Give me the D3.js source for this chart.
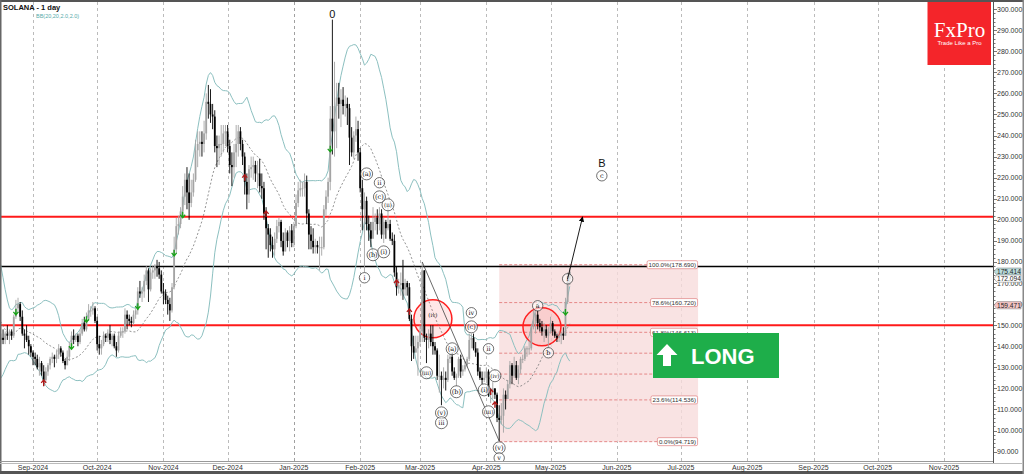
<!DOCTYPE html>
<html><head><meta charset="utf-8">
<script src="https://cdn.jsdelivr.net/npm/d3@7"></script>
<style>
html,body{margin:0;padding:0;background:#fff;}
svg{display:block;font-family:"Liberation Sans",Arial,sans-serif;}
</style></head><body>
<svg id="c" width="1024" height="474"></svg>
<script>
// ---------------- DATA ----------------
const startDate = "2024-07-28";
const firstOpen = 186;
const closes = [
184,181,178,172,166,154,145,138,130,147,143,160,155,153,144,147,146,142,141,143,
144,143,146,145,147,145,154,158,160,154,146,145,143,140,137,
135,134,130,132,128,124,128,131,134,135,134,136,139,137,133,131,135,140,145,143,145,142,146,151,148,153,157,157,158,152,
141,139,141,145,144,146,143,145,140,138,145,147,147,155,153,152,151,155,157,166,165,166,171,176,167,175,176,178,177,174,166,
165,162,160,157,168,186,197,198,204,211,219,213,208,213,219,233,236,237,236,241,256,255,250,249,235,234,236,236,241,242,
235,226,225,232,236,242,236,230,218,212,224,225,226,222,222,216,215,203,196,193,188,186,191,197,199,190,185,194,190,195,189,
197,208,214,215,215,218,203,193,190,187,188,187,187,187,205,211,218,248,242,254,258,255,257,254,255,253,239,232,240,243,232,
215,205,209,198,195,191,199,201,198,203,193,199,196,198,191,190,175,168,169,170,167,170,168,153,140,137,139,142,
147,176,144,143,146,142,140,138,126,126,124,125,124,134,135,128,125,126,134,128,129,131,134,143,144,139,137,128,125,124,125,
128,117,118,120,117,106,105,107,117,115,122,131,126,131,125,129,134,134,139,139,139,149,152,155,151,149,147,148,145,147,
151,147,145,144,145,146,145,161,172,175.4];
const highs = [
188,187,184,181,174,168,156,147,140,151,152,162,162,157,155,149,149,148,146,147,
146,148,147,150,148,148,155,162,163,161,157,148,150,145,141,
138,137,136,135,133,131,130,132,135,137,136,138,141,140,138,134,138,142,147,148,146,146,148,153,154,156,160,159,161,159,
154,145,143,147,146,148,150,146,146,142,147,149,149,158,157,155,154,157,158,168,171,168,174,178,177,177,178,179,181,180,176,
170,167,164,163,170,192,201,202,206,216,222,225,222,219,222,238,242,242,242,247,260,264,262,255,252,240,240,245,245,245,
245,238,232,236,245,245,244,238,232,222,226,230,230,228,228,229,222,218,206,198,196,192,194,200,201,200,194,196,195,197,198,
199,212,218,219,218,222,221,205,197,196,191,190,192,192,207,214,220,254,295,275,265,265,262,263,259,258,255,244,242,249,247,
234,219,213,211,202,199,206,203,205,206,205,201,200,206,200,194,193,178,172,175,181,172,171,170,155,145,145,145,
150,180,176,146,148,150,150,142,139,136,128,130,128,136,137,137,130,127,135,136,131,133,135,146,146,146,142,139,130,128,128,
130,129,120,123,120,118,112,113,120,119,124,133,132,135,133,131,135,136,140,140,143,150,157,156,157,153,152,151,150,149,
154,152,148,146,147,147,149,163,175,177];
const lows = [
180,178,176,170,162,150,139,133,110,128,138,142,150,148,142,141,141,140,138,140,
141,141,141,143,141,143,144,153,156,152,145,139,142,136,135,
131,131,129,126,126,121,123,126,129,132,130,132,134,135,132,129,131,133,139,141,142,140,141,145,147,147,152,154,155,151,
138,136,136,140,142,142,141,140,139,135,137,144,144,146,148,150,149,150,153,155,163,161,163,169,161,166,172,172,173,172,165,
160,160,155,152,156,167,184,193,196,202,207,205,200,206,211,218,225,230,230,232,238,248,246,243,232,225,226,230,232,235,
232,222,216,220,225,230,233,226,212,205,208,220,219,218,215,213,210,200,186,182,185,182,183,189,194,187,183,185,187,185,187,
187,196,206,211,211,211,198,186,186,184,184,184,176,183,186,202,208,214,231,230,234,248,244,250,249,245,226,230,229,237,228,
213,195,175,195,190,187,193,195,193,195,191,189,191,195,190,188,173,164,165,164,162,164,164,152,133,134,137,126,
140,142,142,132,139,140,136,136,124,118,112,120,119,123,132,126,124,121,125,125,126,128,130,133,139,138,135,126,124,122,123,
124,116,113,115,115,104,95,103,99,110,115,120,122,125,124,122,127,132,133,135,136,138,148,146,148,147,145,142,144,139,
146,145,144,142,142,141,143,145,160,169];

const monthTicks = ["2024-09-01","2024-10-01","2024-11-01","2024-12-01","2025-01-01","2025-02-01","2025-03-01","2025-04-01","2025-05-01","2025-06-01","2025-07-01","2025-08-01","2025-09-01","2025-10-01","2025-11-01"];
const monthLabels = ["Sep-2024","Oct-2024","Nov-2024","Dec-2024","Jan-2025","Feb-2025","Mar-2025","Apr-2025","May-2025","Jun-2025","Jul-2025","Aug-2025","Sep-2025","Oct-2025","Nov-2025"];
const priceTicks = [90,100,110,120,130,140,150,160,170,180,190,200,210,220,230,240,250,260,270,280,290,300];

const redLevels = [201.5, 150];
const blackLevels = [177.8];

const fibLow = 94.719, fibHigh = 178.690;
const fibRatios = [1, 0.786, 0.618, 0.5, 0.382, 0.236, 0];
const fibLabelRatios = [1, 0.786, 0.618, 0.236, 0];
const fibStart = "2025-04-07", fibEnd = "2025-07-09";

// signal markers: [date, direction, price]
const signals = [
["2024-08-24","up",156.3],["2024-09-06","down",122.6],["2024-09-19","up",140],["2024-09-26","up",152.8],
["2024-10-20","up",159],["2024-11-06","up",184.3],["2024-11-10","up",202.4],["2024-12-09","down",220],
["2024-12-19","down",202.8],["2025-01-18","up",233.7],["2025-02-18","down",170],["2025-02-24","down",156.3],
["2025-04-03","down",118.3],["2025-04-05","down",112.2],["2025-05-08","up",156.3]];

// wave labels: [text, date, price, circled]
const waves = [
["(a)","2025-02-04",221.8,1],["ii","2025-02-10",217.6,1],["(c)","2025-02-10",210.9,1],["(ii)","2025-02-14",207.1,1],
["(b)","2025-02-07",183.4,1],["(i)","2025-02-12",184.8,1],["i","2025-02-03",172.5,1],
["(iv)","2025-03-07",154.9,0],["iv","2025-03-25",155.9,1],["(c)","2025-03-25",149.2,1],["(a)","2025-03-16",138.8,1],
["ii","2025-04-02",138.8,1],["(iii)","2025-03-04",127.4,1],["(iv)","2025-04-05",126,1],["(b)","2025-03-18",118.4,1],
["(i)","2025-03-31",119.3,1],["(iii)","2025-04-02",108.9,1],["(v)","2025-03-11",108.4,1],["iii","2025-03-11",103.7,1],
["(v)","2025-04-07",91.8,1],["v","2025-04-07",87,1],["a","2025-04-25",159.2,1],["b","2025-04-30",136.9,1],
["i","2025-05-09",172,1],["c","2025-05-25",220.9,1]];
const bigLabels = [["0","2025-01-19",297.8],["B","2025-05-25",227.2]];

const redCircles = [["2025-03-07",153],["2025-04-27",149.2]];
const trendLine = [["2025-03-02",180],["2025-04-07",95]];
const targetArrow = [["2025-05-09",172],["2025-05-16",201.4]];

const priceTags = [[175.414,"#b9dcdc"],[172.094,"#ffffff"],[159.471,"#f4c4c4"]];

// ---------------- CHART ----------------
const svg = d3.select("#c");
const W = 1024, H = 474;
const plotR = 993, plotT = 2, plotB = 462;
const parse = d3.utcParse("%Y-%m-%d");
const x = d3.scaleUtc().domain([parse("2024-09-01"), parse("2025-11-01")]).range([33, 944]);
const y = d3.scaleLinear().domain([90, 300]).range([451.6, 9.1]);

svg.append("rect").attr("width",W).attr("height",H).attr("fill","#fff");

const clip = svg.append("defs").append("clipPath").attr("id","pc");
clip.append("rect").attr("x",1).attr("y",plotT).attr("width",plotR-1).attr("height",plotB-plotT);

// grid
svg.append("g").selectAll("line").data(monthTicks).join("line")
  .attr("x1",d=>Math.round(x(parse(d)))+0.5).attr("x2",d=>Math.round(x(parse(d)))+0.5)
  .attr("y1",plotT).attr("y2",plotB)
  .attr("stroke",(d,i)=>d.endsWith("01-01")?"#888":"#aaa").attr("stroke-width",0.8)
  .attr("stroke-dasharray","3,3");

const g = svg.append("g").attr("clip-path","url(#pc)");

// fib zone
const fx1 = x(parse(fibStart)), fx2 = x(parse(fibEnd));
g.append("rect").attr("x",fx1).attr("y",y(fibHigh)).attr("width",fx2-fx1).attr("height",y(fibLow)-y(fibHigh))
  .attr("fill","#f7dcdc").attr("opacity",0.8);
g.selectAll(".fibl").data(fibRatios).join("line")
  .attr("x1",fx1).attr("x2",fx2)
  .attr("y1",r=>y(fibLow+r*(fibHigh-fibLow))).attr("y2",r=>y(fibLow+r*(fibHigh-fibLow)))
  .attr("stroke","#e07070").attr("stroke-width",0.8).attr("stroke-dasharray","3,2");

// horizontal levels
g.selectAll(".red").data(redLevels).join("line")
  .attr("x1",0).attr("x2",plotR).attr("y1",d=>y(d)).attr("y2",d=>y(d))
  .attr("stroke","#ff1a1a").attr("stroke-width",2);
g.selectAll(".blk").data(blackLevels).join("line")
  .attr("x1",0).attr("x2",plotR).attr("y1",d=>y(d)).attr("y2",d=>y(d))
  .attr("stroke","#000").attr("stroke-width",1.5);

// candles data
const t0 = parse(startDate);
const candles = closes.map((c,i)=>({
  d: d3.utcDay.offset(t0,i), o: i===0?firstOpen:closes[i-1], c, h: highs[i], l: lows[i]
}));

// Bollinger bands (20, 2.0)
const bb = [];
for (let i=19;i<candles.length;i++){
  const w = closes.slice(i-19,i+1);
  const m = d3.mean(w);
  const sd = Math.sqrt(d3.mean(w.map(v=>(v-m)*(v-m))));
  bb.push({d:candles[i].d, m, u:m+2*sd, l:m-2*sd});
}
const ln = k => d3.line().x(d=>x(d.d)).y(d=>y(d[k])).curve(d3.curveLinear);
g.append("path").datum(bb).attr("d",ln("u")).attr("fill","none").attr("stroke","#8cc0c0").attr("stroke-width",1);
g.append("path").datum(bb).attr("d",ln("l")).attr("fill","none").attr("stroke","#8cc0c0").attr("stroke-width",1);
g.append("path").datum(bb).attr("d",ln("m")).attr("fill","none").attr("stroke","#777").attr("stroke-width",0.8).attr("stroke-dasharray","2,2");

// red circles
g.selectAll(".rc").data(redCircles).join("circle")
  .attr("cx",d=>x(parse(d[0]))).attr("cy",d=>y(d[1])).attr("r",19)
  .attr("fill","rgba(255,60,60,0.12)").attr("stroke","#ff2020").attr("stroke-width",1.5);

// candles
const cg = g.append("g");
candles.forEach(k=>{
  const bull = k.c>=k.o;
  const col = bull?"#a4a4a4":"#000";
  const cx = x(k.d);
  cg.append("line").attr("x1",cx).attr("x2",cx).attr("y1",y(k.h)).attr("y2",y(k.l)).attr("stroke",col).attr("stroke-width",0.9);
  const yt = Math.min(y(k.o),y(k.c)), hb = Math.max(1,Math.abs(y(k.o)-y(k.c)));
  cg.append("rect").attr("x",cx-0.9).attr("y",yt).attr("width",1.8).attr("height",hb).attr("fill",col);
});

// trend line
g.append("line").attr("x1",x(parse(trendLine[0][0]))).attr("y1",y(trendLine[0][1]))
  .attr("x2",x(parse(trendLine[1][0]))).attr("y2",y(trendLine[1][1])).attr("stroke","#444").attr("stroke-width",0.8);

// signals
signals.forEach(s=>{
  const cx = x(parse(s[0])), cy = y(s[2]);
  const up = s[1]==="up";
  const col = up?"#19a319":"#b01818";
  const dir = up?-1:1;
  g.append("path").attr("d",`M${cx},${cy-3*dir}L${cx},${cy+3*dir}M${cx-2.5},${cy}L${cx},${cy-3*dir}L${cx+2.5},${cy}`)
   .attr("stroke",col).attr("stroke-width",1.3).attr("fill","none");
});

// wave labels
waves.forEach(w=>{
  const cx = x(parse(w[1])), cy = y(w[2]);
  if (w[3]) g.append("circle").attr("cx",cx).attr("cy",cy).attr("r",w[0].length>2?6:5.2).attr("fill","#fff").attr("fill-opacity",0.6).attr("stroke","#333").attr("stroke-width",0.7);
  g.append("text").attr("x",cx).attr("y",cy+2.5).attr("text-anchor","middle")
   .attr("font-family","'DejaVu Serif',serif").attr("font-size",w[0].length>3?5.5:6.5).attr("fill","#111").text(w[0]);
});
bigLabels.forEach(b=>{
  g.append("text").attr("x",x(parse(b[1]))).attr("y",y(b[2])+4).attr("text-anchor","middle")
   .attr("font-size",11).attr("fill","#111").text(b[0]);
});

// target arrow
svg.append("defs").append("marker").attr("id","ah").attr("viewBox","0 0 10 10").attr("refX",9).attr("refY",5)
  .attr("markerWidth",6).attr("markerHeight",6).attr("orient","auto")
  .append("path").attr("d","M0,0L10,5L0,10z").attr("fill","#000");
g.append("line").attr("x1",x(parse(targetArrow[0][0]))).attr("y1",y(targetArrow[0][1]))
  .attr("x2",x(parse(targetArrow[1][0]))).attr("y2",y(targetArrow[1][1]))
  .attr("stroke","#000").attr("stroke-width",0.9).attr("marker-end","url(#ah)");

// fib labels
fibLabelRatios.forEach(r=>{
  const v = fibLow+r*(fibHigh-fibLow);
  const txt = (r*100).toFixed(1)+"%("+v.toFixed(3)+")";
  const t = g.append("text").attr("x",fx2-2).attr("y",y(v)+2.5).attr("text-anchor","end").attr("font-size",6.2).attr("fill","#333").text(txt);
  const bbx = t.node().getBBox();
  g.insert("rect",()=>t.node()).attr("x",bbx.x-1.5).attr("y",y(v)-4).attr("width",bbx.width+3).attr("height",8).attr("rx",1.5)
   .attr("fill","#fff").attr("stroke","#e08080").attr("stroke-width",0.7);
});

// LONG banner
const lg = svg.append("g");
lg.append("rect").attr("x",653).attr("y",333).attr("width",126).attr("height",45).attr("fill","#1eae4a");
lg.append("path").attr("d","M667,344 L677.5,355 L671,355 L671,366 L663,366 L663,355 L656.5,355 Z").attr("fill","#fff");
lg.append("text").attr("x",691).attr("y",363.5).attr("font-size",22).attr("font-weight","bold").attr("fill","#fff").text("LONG");

// frame & axes
svg.append("rect").attr("x",0).attr("y",0).attr("width",W).attr("height",2).attr("fill","#555");
svg.append("rect").attr("x",0).attr("y",0).attr("width",1.5).attr("height",H).attr("fill","#666");
svg.append("rect").attr("x",0).attr("y",471).attr("width",W).attr("height",3).attr("fill","#555");
svg.append("rect").attr("x",1022.5).attr("y",0).attr("width",1.5).attr("height",H).attr("fill","#888");
svg.append("line").attr("x1",0).attr("x2",plotR+0.5).attr("y1",461.5).attr("y2",461.5).attr("stroke","#999");
svg.append("line").attr("x1",0).attr("x2",1022).attr("y1",463.5).attr("y2",463.5).attr("stroke","#bbb");
svg.append("line").attr("x1",plotR+0.5).attr("x2",plotR+0.5).attr("y1",plotT).attr("y2",463).attr("stroke","#555");

// y axis
const minor = d3.range(90,302,2);
svg.append("g").selectAll("line").data(minor).join("line")
  .attr("x1",plotR+0.5).attr("x2",d=>plotR+(d%10===0?4:2.5)).attr("y1",d=>Math.round(y(d))+0.5).attr("y2",d=>Math.round(y(d))+0.5)
  .attr("stroke","#555").attr("stroke-width",0.8);
svg.append("g").selectAll("text").data(priceTicks).join("text")
  .attr("x",997).attr("y",d=>y(d)+2.5).attr("font-size",7).attr("fill","#333").text(d=>d.toFixed(3));

// price tags
priceTags.forEach(p=>{
  const yy = y(p[0]);
  svg.append("path").attr("d",`M${plotR+1},${yy} L${plotR+4},${yy-3.6} L1021,${yy-3.6} L1021,${yy+3.6} L${plotR+4},${yy+3.6} Z`)
    .attr("fill",p[1]).attr("stroke","#777").attr("stroke-width",0.5);
  svg.append("text").attr("x",997).attr("y",yy+2.3).attr("font-size",6.6).attr("fill","#222").text(p[0].toFixed(3));
});

// x axis labels
svg.append("g").selectAll("text").data(monthTicks).join("text")
  .attr("x",d=>x(parse(d))).attr("y",470).attr("text-anchor","middle").attr("font-size",7).attr("fill","#333")
  .text((d,i)=>monthLabels[i]);

// title
svg.append("text").attr("x",3).attr("y",10).attr("font-size",7.5).attr("font-weight","bold").attr("fill","#111").text("SOLANA - 1 day");
svg.append("text").attr("x",36).attr("y",17.5).attr("font-size",5.5).attr("fill","#5aa").text("BB(20,20,2.0,2.0)");

// logo
svg.append("rect").attr("x",927.5).attr("y",2).attr("width",63.5).attr("height",63).attr("fill","#f4252a");
svg.append("text").attr("x",959.5).attr("y",37).attr("text-anchor","middle").attr("font-family","'Liberation Serif','DejaVu Serif',serif")
  .attr("font-size",21).attr("fill","#fff").text("FxPro");
svg.append("text").attr("x",959.5).attr("y",45).attr("text-anchor","middle").attr("font-size",6).attr("fill","#fff").text("Trade Like a Pro");
</script></body></html>
